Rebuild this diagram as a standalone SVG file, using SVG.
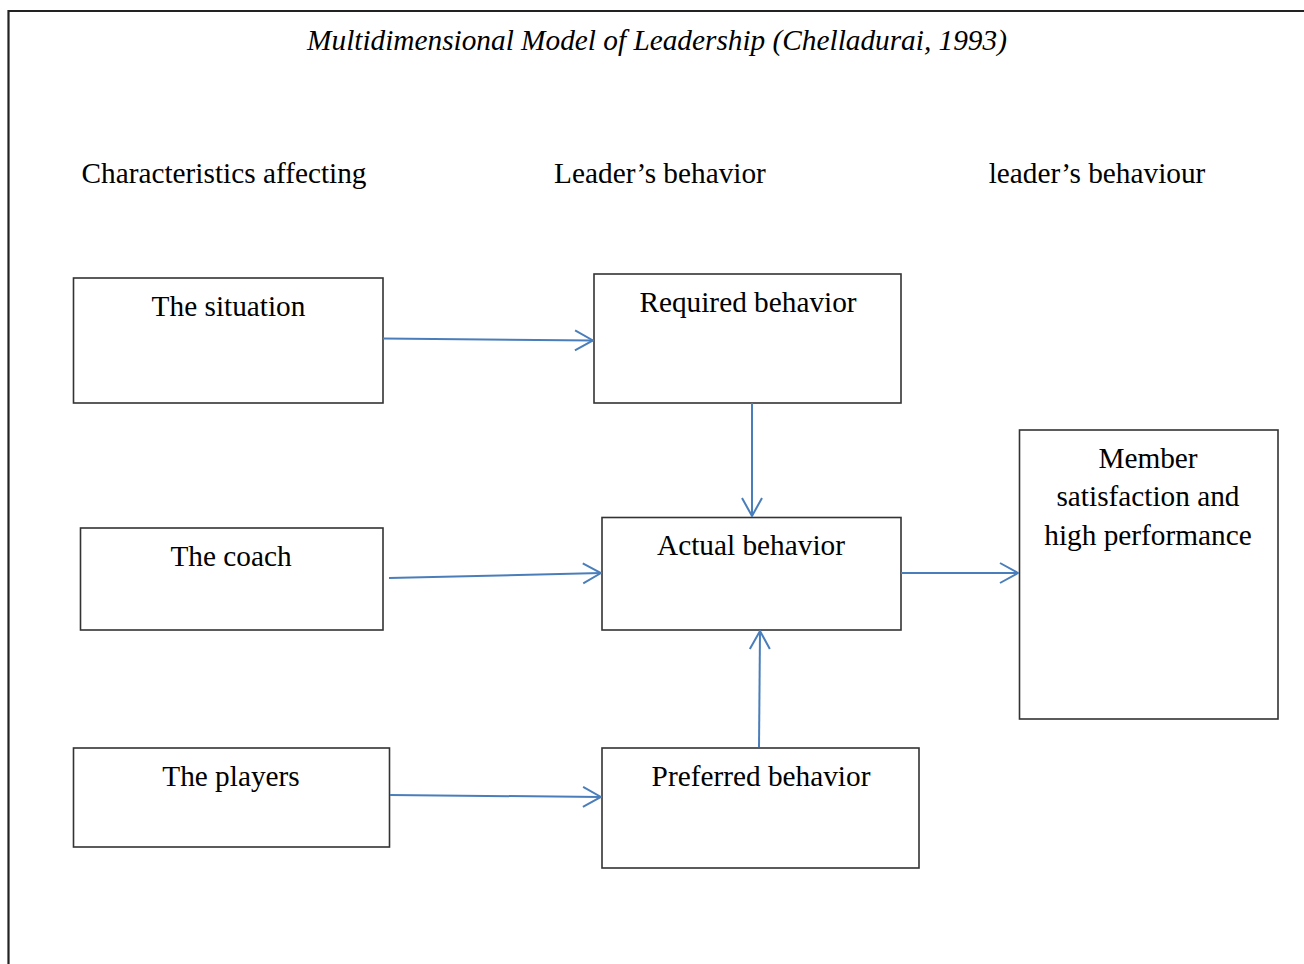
<svg xmlns="http://www.w3.org/2000/svg" width="1304" height="964" viewBox="0 0 1304 964">
<defs>
<style>
.t{font-family:"Liberation Serif","Times New Roman",serif;font-size:29.3px;fill:#000;text-anchor:middle}
.box{fill:#fff;stroke:#333;stroke-width:1.6}
.c{stroke:#4a7ebb;stroke-width:2;fill:none}
</style>
<marker id="ah" viewBox="0 0 20 24" refX="19" refY="12" markerWidth="20" markerHeight="24" markerUnits="userSpaceOnUse" orient="auto">
<path d="M1,2 L19,12 L1,22" fill="none" stroke="#4a7ebb" stroke-width="2"/>
</marker>
</defs>
<rect width="1304" height="964" fill="#fff"/>
<g id="frame">
<path d="M1304,11 H8.5 V964" fill="none" stroke="#222" stroke-width="2.2"/>
</g>
<text class="t" x="657" y="50" font-style="italic">Multidimensional Model of Leadership (Chelladurai, 1993)</text>
<text class="t" x="224" y="183">Characteristics affecting</text>
<text class="t" x="660" y="183">Leader’s behavior</text>
<text class="t" x="1097" y="183">leader’s behaviour</text>
<g id="situation"><rect class="box" x="73.5" y="278" width="309.5" height="125"/><text class="t" x="228.5" y="316">The situation</text></g>
<g id="required"><rect class="box" x="594" y="274" width="307" height="129"/><text class="t" x="748" y="312">Required behavior</text></g>
<g id="coach"><rect class="box" x="80.5" y="528" width="302.5" height="102"/><text class="t" x="231" y="566">The coach</text></g>
<g id="actual"><rect class="box" x="602" y="517.5" width="299" height="112.5"/><text class="t" x="751" y="555">Actual behavior</text></g>
<g id="players"><rect class="box" x="73.5" y="748" width="316" height="99"/><text class="t" x="231" y="786">The players</text></g>
<g id="preferred"><rect class="box" x="602" y="748" width="317" height="120"/><text class="t" x="761" y="786">Preferred behavior</text></g>
<g id="member"><rect class="box" x="1019.5" y="430" width="258.5" height="289"/><text class="t" x="1148" y="468">Member</text><text class="t" x="1148" y="506">satisfaction and</text><text class="t" x="1148" y="545">high performance</text></g>
<g id="connectors">
<line class="c" x1="383" y1="338.5" x2="593" y2="340.5" marker-end="url(#ah)"/>
<line class="c" x1="752" y1="403" x2="752" y2="516" marker-end="url(#ah)"/>
<line class="c" x1="389" y1="578" x2="601" y2="573" marker-end="url(#ah)"/>
<line class="c" x1="901" y1="573" x2="1018" y2="573" marker-end="url(#ah)"/>
<line class="c" x1="759" y1="747" x2="760" y2="631" marker-end="url(#ah)"/>
<line class="c" x1="390" y1="795" x2="601" y2="797" marker-end="url(#ah)"/>
</g>
</svg>
